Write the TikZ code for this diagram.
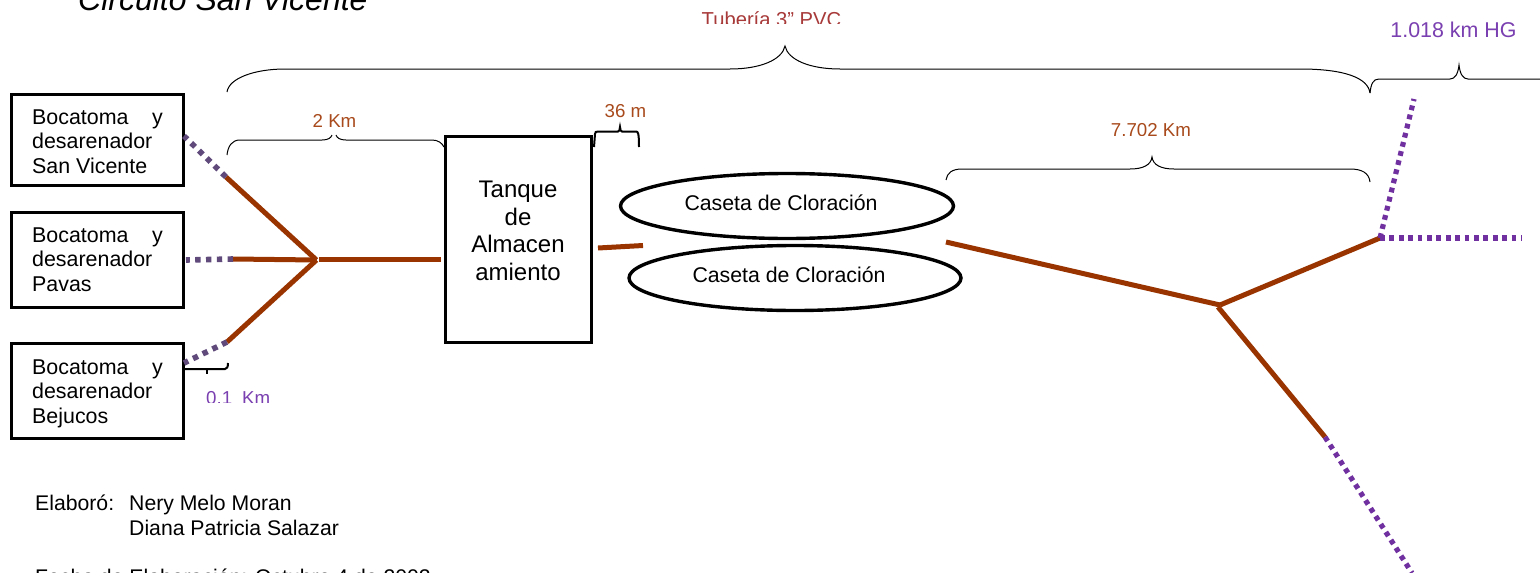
\documentclass[tikz,border=0pt]{standalone}
\usepackage{fontspec}
\setmainfont{Liberation Sans}
\definecolor{pipe}{HTML}{993300}
\definecolor{dotA}{HTML}{604A7B}
\definecolor{dotB}{HTML}{7030A0}
\definecolor{lblR}{HTML}{A84A1C}
\definecolor{lblP}{HTML}{7A3FB0}
\definecolor{lblT}{HTML}{A83A3A}
\tikzset{
  x=1pt,y=-1pt,
  txt/.style={font=\fontsize{21.4}{24.5}\selectfont,inner sep=0pt,anchor=base west,align=left},
  txtb/.style={font=\fontsize{21.2}{24.5}\selectfont,inner sep=0pt,anchor=base west},
  boxs/.style={draw=black,line width=3pt,fill=white},
  ell/.style={draw=black,line width=3.4pt,fill=white,ellipse,inner sep=0pt},
  pvc/.style={draw=pipe,line width=5pt},
  hgA/.style={draw=dotA,line width=5.6pt,dash pattern=on 5.4pt off 5.4pt},
  hgB/.style={draw=dotB,line width=5.2pt,dash pattern=on 4.8pt off 4.6pt},
  brc/.style={draw=black,line width=1pt},
  brct/.style={draw=black,line width=2pt},
  lbl/.style={inner sep=0pt,anchor=base},
  lblsm/.style={inner sep=0pt,anchor=base,font=\fontsize{18.7}{22}\selectfont},
}
\usetikzlibrary{shapes.geometric}
\begin{document}
\begin{tikzpicture}
\useasboundingbox (0,0) rectangle (1540,573);
\clip (0,0) rectangle (1540,573);
\fill[white] (0,0) rectangle (1540,573);
% title
\node[txt,font=\itshape\fontsize{32}{36}\selectfont] (title) at (78,10) {Circuito San Vicente};
% boxes
\draw[boxs] (11,94) rectangle (183,185);
\draw[boxs] (11,212) rectangle (183,307);
\draw[boxs] (11,343) rectangle (183,438);
\coordinate (sv) at (184,136);
\coordinate (pv) at (186,260);
\coordinate (bj) at (184,363);
\foreach \n/\y/\t in {a/124/San Vicente,b/242/Pavas,c/374/Bejucos}{
  \node[txt] (\n1) at (32,\y) {Bocatoma};
  \node[txt] (\n2) at (152,\y) {y};
  \node[txt] (\n3) at (32,\y+24.5) {desarenador};
  \node[txt] (\n4) at (32,\y+49) {\t};
}
% tank
\node[draw=black,line width=3pt,fill=white,minimum width=146pt,minimum height=206pt,inner sep=0pt] (tank) at (518,239) {};
\foreach \i/\y/\t in {1/197/Tanque,2/225/de,3/252/Almacen,4/280/amiento}{
  \node[lbl,font=\fontsize{24}{27}\selectfont] (t\i) at (518,\y) {\t};
}
% ellipses
\node[ell,minimum width=333pt,minimum height=65pt] (e1) at (787,206) {};
\node[ell,minimum width=332pt,minimum height=65pt] (e2) at (795,278) {};
\node[lbl,font=\fontsize{21.3}{24}\selectfont] (e1t) at (781,210) {Caseta de Cloración};
\node[lbl,font=\fontsize{21.3}{24}\selectfont] (e2t) at (789,282) {Caseta de Cloración};
% junctions
\coordinate (j1) at (316.5,260);
\coordinate (j1b) at (319,259.5);
\coordinate (s1) at (226,177);
\coordinate (p1) at (233,259);
\coordinate (b1) at (227,342);
\coordinate (tankR) at (441,259.5);
\coordinate (m1) at (598,248);
\coordinate (m2) at (643,245.5);
\coordinate (r0) at (946,242);
\coordinate (j2) at (1220,305);
\coordinate (j2b) at (1218,307);
\coordinate (j3) at (1380,238);
\coordinate (d1) at (1325,437);
\coordinate (u1) at (1414,99);
\coordinate (h1) at (1522,238);
\coordinate (d2) at (1412,573);
% pipes
\draw[pvc] (s1) -- (j1);
\draw[pvc] (p1) -- (j1);
\draw[pvc] (b1) -- (j1);
\draw[pvc] (j1b) -- (tankR);
\draw[pvc] (m1) -- (m2);
\draw[pvc] (r0) -- (j2);
\draw[pvc] (j2) -- (j3);
\draw[pvc] (j2b) -- (d1);
% dotted
\draw[hgA] (s1) -- (sv);
\draw[hgA] (p1) -- (pv);
\draw[hgA] (b1) -- (bj);
\draw[hgB] (j3) -- (u1);
\draw[hgB] (j3) -- (h1);
\draw[hgB] (d1) -- (d2);
% braces
\draw[brc] (227,92) .. controls (229,78) and (255,69) .. (285,69) -- (730,69) .. controls (760,69) and (782,60) .. (785,46)
  .. controls (788,60) and (810,69) .. (840,69) -- (1300,69) .. controls (1345,69) and (1368,78) .. (1370,93);
\draw[brc] (1370,93) .. controls (1371,84) and (1373,79) .. (1379,79) -- (1450,79) .. controls (1455,79) and (1458,74) .. (1459,65)
  .. controls (1460,74) and (1463,79) .. (1468,79) -- (1540,79);
\draw[brc] (227,155) .. controls (228,146) and (232,140) .. (240,140) -- (322,140) .. controls (328,140) and (331,138) .. (332,135)
  (336,135) .. controls (337,138) and (340,140) .. (346,140) -- (432,140) .. controls (438,140) and (442,143) .. (444,147);
\draw[brc] (946,180) .. controls (947,173) and (952,169) .. (962,169) -- (1130,169) .. controls (1143,169) and (1151,165) .. (1152,157)
  .. controls (1153,165) and (1161,169) .. (1174,169) -- (1350,169) .. controls (1362,169) and (1369,173) .. (1370,182);
\draw[brct] (594,147) -- (595,134) .. controls (595,132) and (596,131.5) .. (598,131.5) -- (618,131.5) .. controls (619,131.5) and (620,130) .. (620,127)
  .. controls (620,130) and (621,131.5) .. (622,131.5) -- (636,131.5) .. controls (638,131.5) and (639,133) .. (639,147);
\draw[brct] (185,369) -- (220,369) .. controls (222,369) and (224,369) .. (225,369) .. controls (227,369) and (228,367) .. (228,363);
\draw[brct] (207,369) -- (207,374);
% labels
\begin{scope}
\clip (600,0) rectangle (900,23);
\node[lbl,text=lblT,font=\fontsize{20.2}{24}\selectfont] (tub) at (771.5,26.5) {Tubería 3” PVC};
\end{scope}
\node[lbl,text=lblP,font=\fontsize{21.4}{24}\selectfont] (hg) at (1453.5,37) {1.018 km HG};
\begin{scope}
\clip (300,113) rectangle (370,140);
\node[lblsm,text=lblR] (km2) at (334.5,127) {2 Km};
\end{scope}
\begin{scope}
\clip (590,104) rectangle (660,128);
\node[lblsm,text=lblR] (m36) at (625.5,117) {36 m};
\end{scope}
\begin{scope}
\clip (1090,122) rectangle (1210,135.5);
\node[lblsm,text=lblR] (km7) at (1151,136.5) {7.702 Km};
\end{scope}
\begin{scope}
\clip (190,380) rectangle (290,402);
\node[txtb,text=lblP,font=\fontsize{18.7}{22}\selectfont] (km01) at (206,404) {0.1\hspace{10pt}Km};
\end{scope}
% credits
\node[txtb] (el) at (35,510) {Elaboró:};
\node[txtb] (n1) at (129,510) {Nery Melo Moran};
\node[txtb] (n2) at (129,535) {Diana Patricia Salazar};
\node[txtb] (fe) at (35,584) {Fecha de Elaboración: Octubre 4 de 2002};
\end{tikzpicture}
\end{document}
